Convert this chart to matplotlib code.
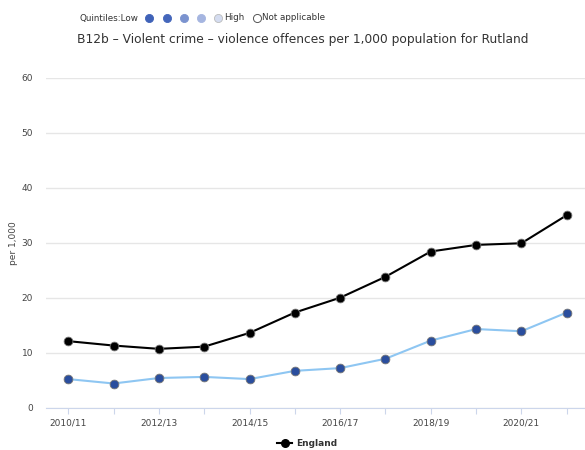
import matplotlib
matplotlib.use('Agg')
import matplotlib.pyplot as plt
from matplotlib.lines import Line2D

# данные графика
years = ['2010/11', '2011/12', '2012/13', '2013/14', '2014/15', '2015/16',
         '2016/17', '2017/18', '2018/19', '2019/20', '2020/21', '2021/22']
rutland = [5.2, 4.4, 5.4, 5.6, 5.2, 6.7, 7.2, 8.9, 12.2, 14.3, 13.9, 17.3]
england = [12.1, 11.3, 10.7, 11.1, 13.6, 17.3, 20.0, 23.8, 28.4, 29.6, 29.9, 35.0]
quintile_colors = ['#3f62b8', '#4466bb', '#7b93cf', '#a5b5e0', '#d4dcf0']

plt.rcParams['font.family'] = ['DejaVu Sans']

fig = plt.figure(figsize=(5.85, 4.5), dpi=100)
ax = fig.add_axes([45.6 / 585, 42.3 / 450, 1.0075 - 45.6 / 585, 330 / 450])

x = range(len(years))
ax.plot(x, england, color='black', lw=1.5, marker='o', ms=6.3,
        mfc='black', mec='#777777', mew=0.6, zorder=3)
ax.plot(x, rutland, color='#8ec6f2', lw=1.5, marker='o', ms=6.3,
        mfc='#2a4e9e', mec='#777777', mew=0.6, zorder=3)

ax.set_xlim(-0.5, 11.5)
ax.set_ylim(0, 60)
ax.set_yticks(range(0, 61, 10))
ax.set_xticks(list(x))
ax.set_xticklabels([y if i % 2 == 0 else '' for i, y in enumerate(years)])
ax.grid(axis='y', color='#e6e6e6', lw=1)
ax.set_axisbelow(True)
for s in ['top', 'right', 'left']:
    ax.spines[s].set_visible(False)
ax.spines['bottom'].set_color('#ccd6eb')
ax.tick_params(axis='y', length=0, pad=9, labelsize=6.5, labelcolor='#444444')
ax.tick_params(axis='x', length=4, color='#ccd6eb', pad=4, labelsize=6.5,
               labelcolor='#444444')
ax.set_ylabel('per 1,000', fontsize=6.5, color='#444444')
ax.yaxis.set_label_coords(-0.05, 0.5)

# заголовок
fig.text(303 / 585, 1 - 40 / 450, 'B12b – Violent crime – violence offences per 1,000 population for Rutland',
         ha='center', va='center', fontsize=8.8, color='#333333')

# легенда квинтилей сверху
ov = fig.add_axes([0, 0, 1, 1], facecolor='none')
ov.set_xlim(0, 585)
ov.set_ylim(450, 0)
ov.axis('off')
ov.text(80, 18, 'Quintiles:Low', fontsize=6.3, va='center', color='#333333')
qx = [149, 166.5, 183.5, 200.5, 218]
for xx, c in zip(qx, quintile_colors):
    ov.scatter(xx, 18, s=34, color=c, edgecolors='#bbbbbb' if c == quintile_colors[-1] else c,
               linewidths=0.6)
ov.text(224, 18, 'High', fontsize=6.3, va='center', color='#333333')
ov.scatter(257, 18, s=34, facecolors='white', edgecolors='#555555', linewidths=0.7)
ov.text(262, 18, 'Not applicable', fontsize=6.3, va='center', color='#333333')

# нижняя легенда
ov.add_line(Line2D([277, 292], [443, 443], color='black', lw=1.5))
ov.scatter(284.5, 443, s=30, color='black')
ov.text(296, 443, 'England', fontsize=6.5, va='center', weight='bold', color='#333333')

fig.savefig('out.png', dpi=100)
